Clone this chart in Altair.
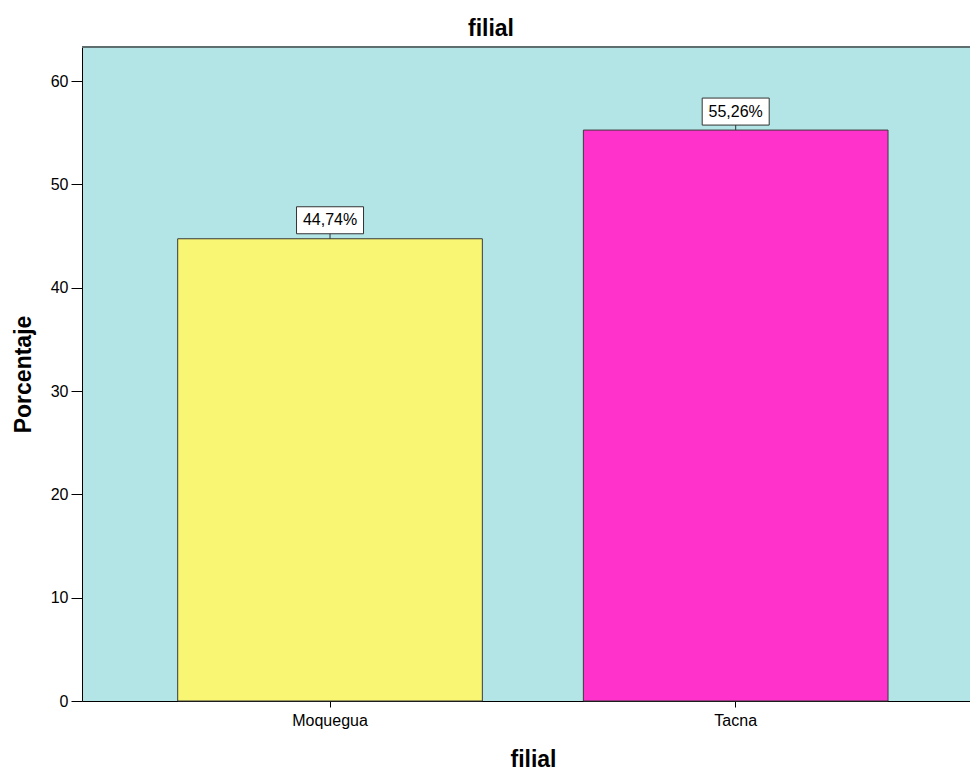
import altair as alt
import pandas as pd

categories = ["Moquegua", "Tacna"]
percentages = [44.74, 55.26]
bar_colors = ["#f8f672", "#ff33cc"]
y_ticks = [0, 10, 20, 30, 40, 50, 60]
chart_title = "filial"

labels = [f"{v:.2f}%".replace(".", ",") for v in percentages]
df = pd.DataFrame({"filial": categories, "pct": percentages, "label": labels})

W, H = 888, 654
FONT = "Liberation Sans"

x = alt.X(
    "filial:N",
    sort=categories,
    scale=alt.Scale(paddingInner=0.249, paddingOuter=0.219, align=0.5386),
    axis=alt.Axis(
        title="filial", labelAngle=0, tickSize=6, tickColor="black",
        domainColor="black", labelFontSize=16, labelFont=FONT, labelColor="black",
        labelPadding=5, titleFontSize=23, titleFont=FONT, titleFontWeight="bold",
        titleColor="black", titlePadding=20, titleX=451, titleAlign="center",
    ),
)
y = alt.Y(
    "pct:Q",
    scale=alt.Scale(domain=[0, 63.3], nice=False, zero=True),
    axis=alt.Axis(
        title="Porcentaje", values=y_ticks, grid=False, tickSize=11,
        tickColor="black", domainColor="black", labelFontSize=16, labelFont=FONT,
        labelColor="black", labelPadding=3, titleFontSize=23, titleFont=FONT,
        titleFontWeight="bold", titleColor="black", titlePadding=15,
    ),
)

bars = alt.Chart(df).mark_bar(stroke="#3a3a3a", strokeWidth=1).encode(
    x=x, y=y,
    color=alt.Color("filial:N", scale=alt.Scale(domain=categories, range=bar_colors), legend=None),
)

box_path = "M-0.67,-0.64 L0.67,-0.64 L0.67,-0.1 L-0.67,-0.1 Z M0,-0.1 L0,0"
boxes = alt.Chart(df).mark_point(
    shape=box_path, size=10000, filled=True, fill="white", stroke="#333333",
    strokeWidth=1, opacity=1,
).encode(x=x, y=y)

texts = alt.Chart(df).mark_text(
    dy=-18.5, fontSize=16, font=FONT, color="black", baseline="middle", align="center",
).encode(x=x, y=y, text="label:N")

top_border = alt.Chart(pd.DataFrame({"a": [0]})).mark_rule(
    color="#5f6e6e", strokeWidth=2
).encode(x=alt.value(0), x2=alt.value(W), y=alt.value(0))

title_text = alt.Chart(pd.DataFrame({"t": [chart_title]})).mark_text(
    fontSize=23, fontWeight="bold", font=FONT, color="black",
    baseline="alphabetic", align="center",
).encode(x=alt.value(409), y=alt.value(-11), text="t:N")

chart = alt.layer(bars, boxes, texts, top_border, title_text).properties(
    width=W, height=H,
    autosize=alt.AutoSizeParams(type="none"),
    padding={"left": 82, "top": 47, "right": 0, "bottom": 73},
    background="white",
).configure_view(fill="#b3e5e6", stroke="transparent")

chart.save("out.html", embed_options={"renderer": "svg", "actions": False})
